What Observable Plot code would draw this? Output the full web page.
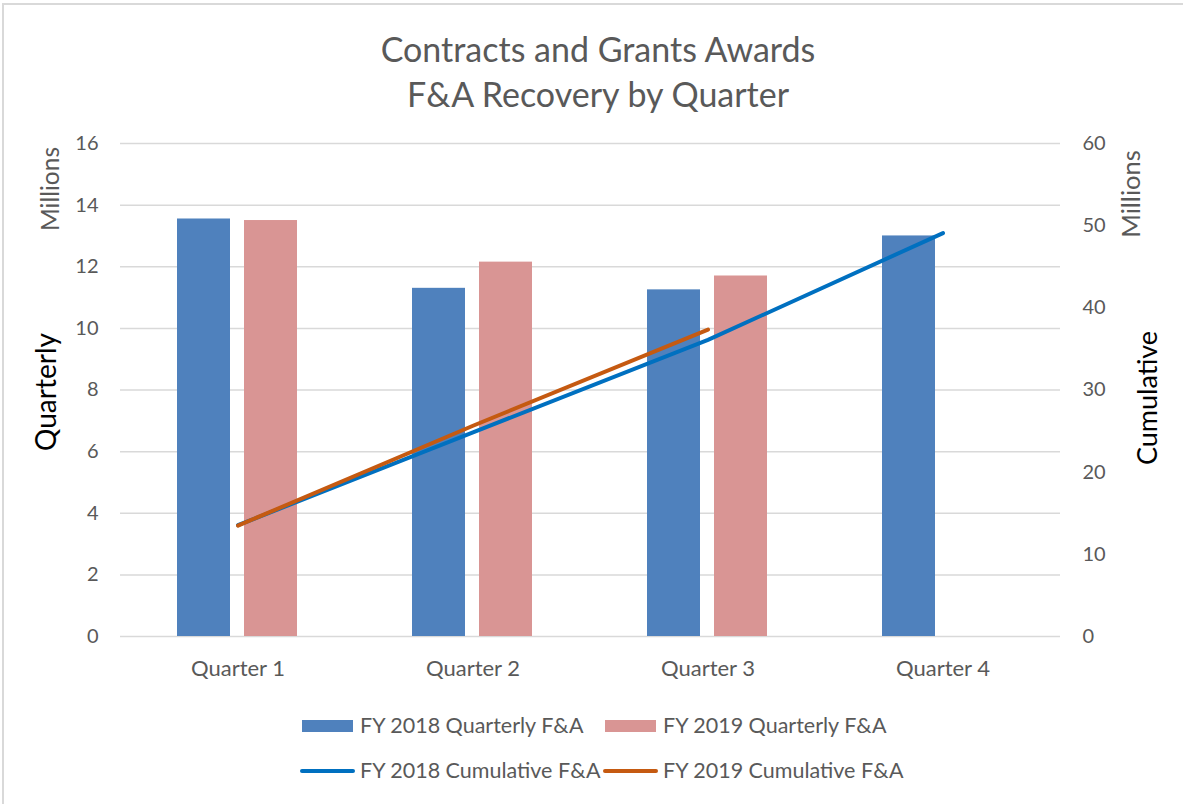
<!DOCTYPE html>
<html><head><meta charset="utf-8">
<script src="https://cdn.jsdelivr.net/npm/d3@7"></script>
<script src="https://cdn.jsdelivr.net/npm/@observablehq/plot@0.6"></script>
<style>
body{margin:0;background:#fff;font-family:Lato,"Open Sans",sans-serif;}
#wrap{position:absolute;left:0;top:0;width:1183px;height:804px;overflow:hidden;background:#fff;}
#frame{position:absolute;left:2px;top:3px;width:1200px;height:820px;border-top:2px solid #d9d9d9;border-left:2px solid #d9d9d9;}
#chart{position:absolute;left:0;top:0;}
.title{position:absolute;left:0;width:1196px;text-align:center;font-size:34px;color:#595959;line-height:1;white-space:nowrap;}
.lab{position:absolute;white-space:nowrap;line-height:1;transform:translate(-50%,-50%) rotate(-90deg);}
.leg{position:absolute;font-size:21.5px;color:#595959;line-height:1;white-space:nowrap;display:flex;align-items:center;}
.sw{display:inline-block;width:51px;height:12px;margin-right:7px;}
.ln{display:inline-block;width:55px;height:4px;border-radius:2px;margin-right:5px;}
</style></head><body>
<div id="wrap">
<div id="frame"></div>
<div id="chart"></div>
<div class="title" style="top:32px">Contracts and Grants Awards</div>
<div class="title" style="top:77px">F&amp;A Recovery by Quarter</div>
<div class="lab" style="left:50px;top:189px;font-size:24.5px;color:#595959">Millions</div>
<div class="lab" style="left:45px;top:392px;font-size:28px;color:#000">Quarterly</div>
<div class="lab" style="left:1131px;top:194px;font-size:25.5px;color:#595959">Millions</div>
<div class="lab" style="left:1146px;top:398px;font-size:27px;color:#000">Cumulative</div>
<div id="legend"></div>
</div>
<script>
const quarters = ["Quarter 1", "Quarter 2", "Quarter 3", "Quarter 4"];
const fy2018Quarterly = [13.55, 11.3, 11.25, 13.0];
const fy2019Quarterly = [13.5, 12.15, 11.7];
const fy2018Cumulative = [13.55, 24.85, 36.1, 49.1];
const fy2019Cumulative = [13.5, 25.65, 37.35];
const leftTicks = [0, 2, 4, 6, 8, 10, 12, 14, 16];
const rightTicks = [0, 10, 20, 30, 40, 50, 60];
const seriesNames = ["FY 2018 Quarterly F&A", "FY 2019 Quarterly F&A", "FY 2018 Cumulative F&A", "FY 2019 Cumulative F&A"];
const colors = ["#4f81bd", "#d99594", "#0070c0", "#c55a11"];

const ratio = 16 / 60; // left axis max / right axis max
const q = (d, i) => quarters[i];

const chart = Plot.plot({
  width: 1183,
  height: 700,
  marginTop: 143,
  marginBottom: 64,
  marginLeft: 120,
  marginRight: 123,
  style: {fontFamily: "Lato, 'Open Sans', sans-serif", fontSize: "20px", color: "#595959", background: "transparent"},
  x: {type: "band", domain: quarters, padding: 0},
  y: {domain: [0, 16]},
  marks: [
    Plot.gridY(leftTicks, {stroke: "#d9d9d9", strokeOpacity: 1, strokeWidth: 1.5}),
    Plot.barY(fy2018Quarterly, {x: q, y: d => d, fill: colors[0], insetLeft: 57, insetRight: 125}),
    Plot.barY(fy2019Quarterly, {x: q, y: d => d, fill: colors[1], insetLeft: 124, insetRight: 58}),
    Plot.lineY(fy2018Cumulative, {x: q, y: d => d * ratio, stroke: colors[2], strokeWidth: 4, strokeLinecap: "round"}),
    Plot.lineY(fy2019Cumulative, {x: q, y: d => d * ratio, stroke: colors[3], strokeWidth: 4, strokeLinecap: "round"}),
    Plot.axisX({tickSize: 0, tickPadding: 24, label: null, fontSize: 22}),
    Plot.axisY(leftTicks, {anchor: "left", tickSize: 0, tickPadding: 22, label: null, fontSize: 20}),
    Plot.axisY(rightTicks.map(v => v * ratio), {anchor: "right", tickSize: 0, tickPadding: 22, label: null, fontSize: 20,
      tickFormat: d => String(Math.round(d / ratio))})
  ]
});
document.getElementById("chart").appendChild(chart);

const legend = document.getElementById("legend");
const legPos = [[302, 726, "sw"], [605, 726, "sw"], [300, 771, "ln"], [603, 771, "ln"]];
seriesNames.forEach((name, i) => {
  const [x, y, cls] = legPos[i];
  const div = document.createElement("div");
  div.className = "leg";
  div.style.left = x + "px";
  div.style.top = (y - 12) + "px";
  div.style.height = "24px";
  const s = document.createElement("span");
  s.className = cls;
  s.style.background = colors[i];
  div.appendChild(s);
  div.appendChild(document.createTextNode(name));
  legend.appendChild(div);
});
</script>
</body></html>
